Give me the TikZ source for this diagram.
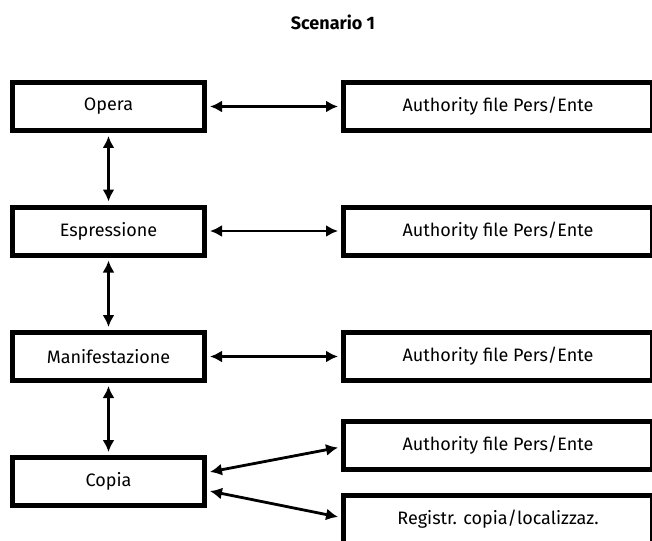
\documentclass[tikz,border=0pt]{standalone}
\usepackage{fontspec}
\setmainfont{Fira Sans}
\usetikzlibrary{arrows.meta,calc}
\begin{document}
\begin{tikzpicture}[x=1pt,y=-1pt,
  box/.style={draw=black,line width=5pt,fill=white,minimum height=48pt,inner sep=0pt,font=\fontsize{18}{21}\selectfont},
  leftbox/.style={box,minimum width=192pt},
  rightbox/.style={box,minimum width=309pt},
  link/.style={line width=2.8pt,{Latex[length=12pt,width=12pt]}-{Latex[length=12pt,width=12pt]},shorten <=3pt,shorten >=3pt}]
\useasboundingbox (0,0) rectangle (652,540);
\clip (0,0) rectangle (652,540);
\node[font=\bfseries\fontsize{18}{21}\selectfont] (title) at (333,22) {Scenario 1};
\node[leftbox] (opera) at (108.5,106.5) {Opera};
\node[leftbox] (espr) at (108.5,231) {Espressione};
\node[leftbox] (manif) at (108.5,356.5) {Manifestazione};
\node[leftbox] (copia) at (108.5,481.5) {Copia};
\node[rightbox,anchor=west] (a1) at (341,106.5) {Authority file Pers/Ente};
\node[rightbox,anchor=west] (a2) at (341,231) {Authority file Pers/Ente};
\node[rightbox,anchor=west] (a3) at (341,356.5) {Authority file Pers/Ente};
\node[rightbox,anchor=west] (a4) at (341,445) {Authority file Pers/Ente};
\node[rightbox,anchor=west] (reg) at (341,519.5) {Registr. copia/localizzaz.};
\draw[link] (opera.east) -- (a1.west);
\draw[link] (espr.east) -- (a2.west);
\draw[link] (manif.east) -- (a3.west);
\draw[link] (opera.south) -- (espr.north);
\draw[link] (espr.south) -- (manif.north);
\draw[link] (manif.south) -- (copia.north);
\draw[link] ([yshift=9pt]copia.east) -- ([yshift=-2pt]a4.west);
\draw[link] ([yshift=-9pt]copia.east) -- ([yshift=2pt]reg.west);
\end{tikzpicture}
\end{document}
